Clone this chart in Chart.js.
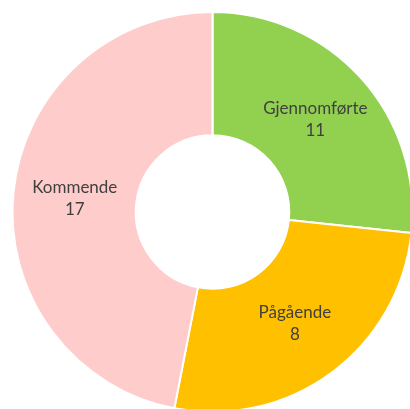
<!DOCTYPE html>
<html>
<head>
<meta charset="utf-8">
<script src="https://cdn.jsdelivr.net/npm/chart.js@4"></script>
<style>
  html, body { margin: 0; padding: 0; background: #fff; overflow: hidden; }
  #wrap { position: absolute; left: 0; top: 0; width: 425px; height: 424px; }
</style>
</head>
<body>
<div id="wrap"><canvas id="statusChart" width="425" height="424"></canvas></div>
<script>
// Categories and the counts printed in the labels
const categories = ['Gjennomførte', 'Pågående', 'Kommende'];
const counts = [11, 8, 17];
// Slice sizes as drawn in the picture (degrees of the ring)
const sliceShares = [96, 95, 169];
const sliceColors = ['#92D050', '#FFC000', '#FFCCCC'];

// Draw "name / count" in the middle of each slice
const sliceLabels = {
  id: 'sliceLabels',
  afterDatasetsDraw(chart) {
    const ctx = chart.ctx;
    const arcs = chart.getDatasetMeta(0).data;
    ctx.save();
    ctx.fillStyle = '#404040';
    ctx.font = '17px Lato, "Open Sans", sans-serif';
    ctx.textAlign = 'center';
    ctx.textBaseline = 'middle';
    arcs.forEach((arc, i) => {
      const p = arc.getCenterPoint();
      ctx.fillText(categories[i], p.x, p.y - 11);
      ctx.fillText(String(counts[i]), p.x, p.y + 11);
    });
    ctx.restore();
  }
};

new Chart(document.getElementById('statusChart'), {
  type: 'doughnut',
  data: {
    labels: categories,
    datasets: [{
      data: sliceShares,
      backgroundColor: sliceColors,
      borderColor: '#ffffff',
      borderWidth: 2
    }]
  },
  options: {
    responsive: false,
    animation: false,
    radius: 200,
    cutout: 81,
    rotation: 0,
    layout: { padding: 0 },
    plugins: {
      legend: { display: false },
      tooltip: { enabled: false }
    }
  },
  plugins: [sliceLabels]
});
</script>
</body>
</html>
